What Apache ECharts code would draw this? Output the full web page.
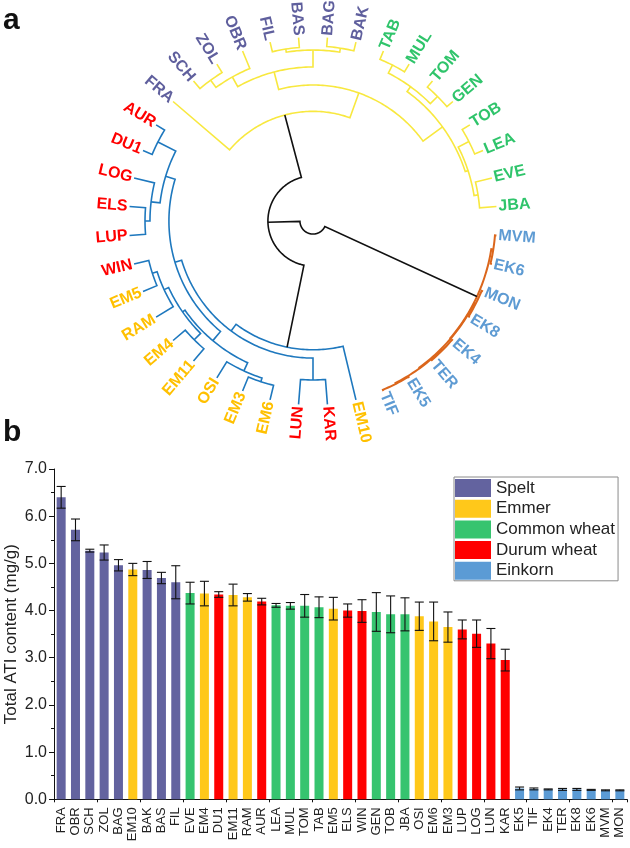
<!DOCTYPE html>
<html><head><meta charset="utf-8">
<script src="https://cdn.jsdelivr.net/npm/echarts@6/dist/echarts.min.js"></script>
<style>html,body{margin:0;padding:0;background:#fff}#c{width:630px;height:848px}</style>
</head><body><div id="c"></div>
<script>
const FONT = "'Liberation Sans', Arial, sans-serif";

// ---------- data: dendrogram (panel a) ----------
// leaves in clockwise order starting at 3 o'clock
const leafNames = ['MVM','EK6','MON','EK8','EK4','TER','EK5','TIF','EM10','KAR','LUN','EM6','EM3','OSI','EM11','EM4','RAM','EM5','WIN','LUP','ELS','LOG','DU1','AUR','FRA','SCH','ZOL','OBR','FIL','BAS','BAG','BAK','TAB','MUL','TOM','GEN','TOB','LEA','EVE','JBA'];
// linkage rows [childA, childB, height]; ids >= 40 refer to earlier rows (id = 40 + row)
const linkage = [
  [0, 1, 0.08],   // 40 MVM-EK6
  [2, 3, 0.08],   // 41 MON-EK8
  [4, 5, 0.06],   // 42 EK4-TER
  [6, 7, 0.07],   // 43 EK5-TIF
  [42, 43, 0.12], // 44
  [41, 44, 0.16], // 45
  [40, 45, 0.19], // 46 einkorn clade
  [9, 10, 1.36],  // 47 KAR-LUN
  [11, 12, 0.82], // 48 EM6-EM3
  [13, 48, 1.03], // 49 OSI
  [14, 15, 0.87], // 50 EM11-EM4
  [17, 18, 0.82], // 51 EM5-WIN
  [16, 51, 1.09], // 52 RAM
  [50, 52, 1.36], // 53
  [49, 53, 1.52], // 54
  [19, 20, 0.87], // 55 LUP-ELS
  [55, 21, 1.14], // 56 LOG
  [22, 23, 0.54], // 57 DU1-AUR
  [56, 57, 1.63], // 58
  [54, 58, 2.17], // 59
  [47, 59, 2.55], // 60
  [8, 60, 3.00],  // 61 tetraploid / durum clade
  [25, 26, 0.54], // 62 SCH-ZOL
  [62, 27, 1.03], // 63 OBR
  [28, 29, 0.54], // 64 FIL-BAS
  [30, 31, 0.49], // 65 BAG-BAK
  [64, 65, 0.71], // 66
  [63, 66, 1.63], // 67
  [32, 33, 0.49], // 68 TAB-MUL
  [34, 35, 0.43], // 69 TOM-GEN
  [68, 69, 0.98], // 70
  [36, 37, 0.49], // 71 TOB-LEA
  [38, 39, 0.92], // 72 EVE-JBA
  [71, 72, 1.14], // 73
  [70, 73, 1.30], // 74
  [67, 74, 2.61], // 75
  [24, 75, 4.04], // 76 hexaploid clade
  [61, 76, 7.55], // 77
  [46, 77, 9.29]  // 78 root
];
const maxHeight = 10;

// ---------- data: groups ----------
const groupNames = ['Spelt','Emmer','Common wheat','Durum wheat','Einkorn'];
const speltLines = ['FRA','OBR','SCH','ZOL','BAG','BAK','BAS','FIL'];
const emmerLines = ['EM10','EM4','EM11','RAM','EM5','OSI','EM6','EM3'];
const commonLines = ['EVE','LEA','MUL','TOM','TAB','GEN','TOB','JBA'];
const durumLines = ['DU1','AUR','ELS','WIN','LUP','LOG','LUN','KAR'];
const einkornLines = ['EK5','TIF','EK4','TER','EK8','EK6','MVM','MON'];

// ---------- data: bar chart (panel b) ----------
const barCats = ['FRA','OBR','SCH','ZOL','BAG','EM10','BAK','BAS','FIL','EVE','EM4','DU1','EM11','RAM','AUR','LEA','MUL','TOM','TAB','EM5','ELS','WIN','GEN','TOB','JBA','OSI','EM6','EM3','LUP','LOG','LUN','KAR','EK5','TIF','EK4','TER','EK8','EK6','MVM','MON'];
const barValues = [6.40,5.71,5.27,5.23,4.96,4.87,4.86,4.69,4.60,4.37,4.36,4.34,4.33,4.28,4.19,4.11,4.10,4.10,4.07,4.04,4.00,3.99,3.97,3.92,3.92,3.88,3.77,3.65,3.60,3.51,3.30,2.95,0.23,0.22,0.21,0.21,0.21,0.20,0.19,0.19];
const barErrors = [0.23,0.23,0.03,0.16,0.12,0.13,0.18,0.12,0.35,0.23,0.26,0.06,0.23,0.08,0.07,0.04,0.07,0.24,0.22,0.24,0.14,0.24,0.41,0.39,0.35,0.30,0.41,0.32,0.20,0.29,0.32,0.23,0.03,0.02,0.01,0.02,0.02,0.01,0.01,0.01];

// ---------- styles ----------
const groupColors = ['#63639F','#FFC81A','#36C46F','#FF0000','#5B9BD5'];
const labelColors = ['#5F5F9D','#FFC000','#2FC46B','#FF0000','#5E9BD3'];
const cladeStyle = {46: '#DB661C', 61: '#1E78BE', 76: '#F8E83F'};
const rootColor = '#111111';

// ---------- derived ----------
const groupLists = [speltLines, emmerLines, commonLines, durumLines, einkornLines];
const groupOf = {};
groupLists.forEach((l, g) => l.forEach(n => { groupOf[n] = g; }));
const nLeaf = leafNames.length;
const nodeH = [], nodeV = [];
for (let i = 0; i < nLeaf; i++) { nodeH[i] = 0; nodeV[i] = i + 0.5; }
linkage.forEach((r, k) => { nodeH[nLeaf + k] = r[2]; nodeV[nLeaf + k] = (nodeV[r[0]] + nodeV[r[1]]) / 2; });
const rootId = nLeaf + linkage.length - 1;
const nodeColor = [];
(function paint(id, col) {
  if (cladeStyle[id]) col = cladeStyle[id];
  nodeColor[id] = col;
  if (id >= nLeaf) { const r = linkage[id - nLeaf]; paint(r[0], col); paint(r[1], col); }
})(rootId, rootColor);

const chart = echarts.init(document.getElementById('c'), null, {renderer: 'canvas'});

const barSeries = groupNames.map((name, g) => ({
  type: 'bar', name: name, xAxisIndex: 0, yAxisIndex: 0,
  data: barCats.map((c, i) => groupOf[c] === g ? barValues[i] : '-'),
  barWidth: 9, barGap: '-100%',
  itemStyle: {color: groupColors[g]},
  silent: true
}));

const option = {
  animation: false,
  backgroundColor: '#fff',
  textStyle: {fontFamily: FONT},
  graphic: [
    {type: 'text', x: 3, y: 21, style: {text: 'a', font: 'bold 30px ' + FONT, fill: '#111', verticalAlign: 'middle'}},
    {type: 'text', x: 3, y: 433, style: {text: 'b', font: 'bold 30px ' + FONT, fill: '#111', verticalAlign: 'middle'}}
  ],
  polar: {center: [313, 221], radius: 184},
  angleAxis: {type: 'value', min: 0, max: nLeaf, startAngle: 0, clockwise: true,
    axisLine: {show: false}, axisTick: {show: false}, axisLabel: {show: false}, splitLine: {show: false}},
  radiusAxis: {type: 'value', min: 0, max: maxHeight, inverse: true,
    axisLine: {show: false}, axisTick: {show: false}, axisLabel: {show: false}, splitLine: {show: false}},
  grid: {left: 54, right: 3, top: 469, bottom: 48.7, containLabel: false, outerBoundsMode: 'none'},
  legend: {
    data: groupNames, orient: 'vertical', left: 454, top: 477,
    itemWidth: 36, itemHeight: 18, itemGap: 2.7, icon: 'rect',
    padding: [2, 3, 1, 1], borderColor: '#8a8a8a', borderWidth: 1,
    textStyle: {fontSize: 17, color: '#222', fontFamily: FONT, lineHeight: 18},
    selectedMode: false
  },
  xAxis: [
    {type: 'category', gridIndex: 0, data: barCats, position: 'bottom',
      axisLine: {lineStyle: {color: '#111', width: 1}},
      axisTick: {alignWithLabel: true, length: 5, lineStyle: {color: '#111'}},
      axisLabel: {rotate: 90, interval: 0, fontSize: 13, color: '#222', fontFamily: FONT, margin: 8},
      splitLine: {show: false}},
    {type: 'category', gridIndex: 0, data: barCats, position: 'bottom', offset: 0,
      axisLine: {show: false},
      axisTick: {show: true, length: 3, lineStyle: {color: '#111'}},
      axisLabel: {show: false}, splitLine: {show: false}}
  ],
  yAxis: {type: 'value', gridIndex: 0, min: 0, max: 7, interval: 1,
    axisLine: {show: true, lineStyle: {color: '#111', width: 1}},
    axisTick: {show: true, length: 5, lineStyle: {color: '#111'}},
    minorTick: {show: true, splitNumber: 2, length: 3, lineStyle: {color: '#111'}},
    splitLine: {show: false},
    axisLabel: {formatter: v => v.toFixed(1), fontSize: 16, color: '#222', fontFamily: FONT, margin: 7},
    name: 'Total ATI content (mg/g)', nameLocation: 'middle', nameGap: 34, nameMoveOverlap: false,
    nameTextStyle: {fontSize: 17, color: '#222', fontFamily: FONT}},
  series: [
    // dendrogram branches
    {type: 'custom', coordinateSystem: 'polar', silent: true,
      data: linkage.map((r, k) => [nodeH[nLeaf + k], nodeV[nLeaf + k], k]),
      renderItem: function (params, api) {
        const k = api.value(2);
        const r = linkage[k], id = nLeaf + k, h = nodeH[id];
        const a = r[0], b = r[1], v1 = nodeV[a], v2 = nodeV[b];
        const pts = [api.coord([nodeH[a], v1])];
        const steps = Math.max(2, Math.ceil(Math.abs(v2 - v1) * 10));
        for (let s = 0; s <= steps; s++) pts.push(api.coord([h, v1 + (v2 - v1) * s / steps]));
        pts.push(api.coord([nodeH[b], v2]));
        const col = nodeColor[id];
        return {type: 'polyline', shape: {points: pts},
          style: {stroke: col, lineWidth: col === cladeStyle[46] ? 2 : 1.6, fill: null, lineJoin: 'miter'}};
      }},
    // leaf labels
    {type: 'custom', coordinateSystem: 'polar', silent: true,
      data: leafNames.map((n, i) => [0, nodeV[i], i]),
      renderItem: function (params, api) {
        const i = api.value(2);
        const tip = api.coord([0, nodeV[i]]);
        const c = api.coord([maxHeight, nodeV[i]]);
        const dx = tip[0] - c[0], dy = tip[1] - c[1];
        const len = Math.hypot(dx, dy) || 1;
        const ux = dx / len, uy = dy / len;
        const ang = Math.atan2(-dy, dx);
        const left = dx < 0;
        return {type: 'text', x: tip[0] + ux * 2, y: tip[1] + uy * 2,
          rotation: left ? ang - Math.PI : ang,
          style: {text: leafNames[i], fill: labelColors[groupOf[leafNames[i]]],
            font: 'bold 16px ' + FONT, align: left ? 'right' : 'left', verticalAlign: 'middle'}};
      }},
    ...barSeries,
    // error bars
    {type: 'custom', name: 'error', xAxisIndex: 0, yAxisIndex: 0, silent: true, z: 10,
      data: barCats.map((c, i) => [i, barValues[i], barErrors[i]]),
      renderItem: function (params, api) {
        const x = api.value(0), v = api.value(1), e = api.value(2);
        const t = api.coord([x, v + e]), b = api.coord([x, v - e]);
        const hw = 4.5;
        const st = {stroke: '#111', lineWidth: 1.1};
        return {type: 'group', children: [
          {type: 'line', shape: {x1: t[0], y1: t[1], x2: b[0], y2: b[1]}, style: st},
          {type: 'line', shape: {x1: t[0] - hw, y1: t[1], x2: t[0] + hw, y2: t[1]}, style: st},
          {type: 'line', shape: {x1: b[0] - hw, y1: b[1], x2: b[0] + hw, y2: b[1]}, style: st}
        ]};
      }}
  ]
};
chart.setOption(option);
</script>
</body></html>
